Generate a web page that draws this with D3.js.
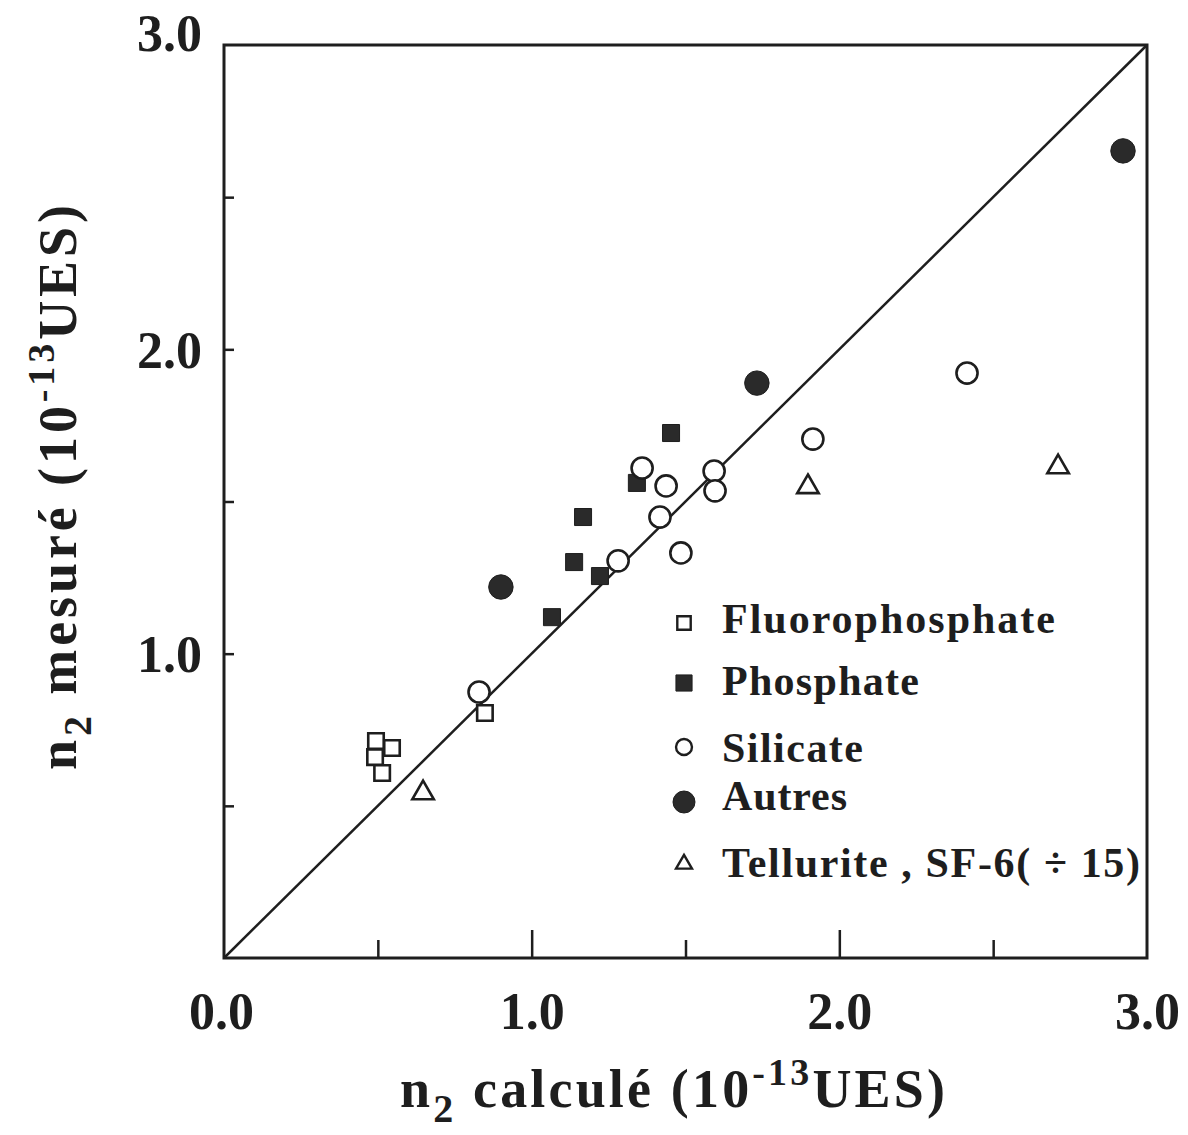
<!DOCTYPE html>
<html><head><meta charset="utf-8">
<script src="https://cdn.jsdelivr.net/npm/d3@7"></script>
<style>body{margin:0;background:#fff}</style>
</head><body><svg id="c" width="1188" height="1135"></svg>
<script>
// ---- data ----
const majorTicks = [1.0, 2.0];
const minorTicks = [0.5, 1.5, 2.5];
const xTickLabels = [0, 1, 2, 3];
const yTickLabels = [1, 2, 3];
const yTicks = [0.5, 1.0, 1.5, 2.0, 2.5];

const fluoroX = [0.494, 0.546, 0.491, 0.514, 0.848];
const fluoroY = [0.713, 0.690, 0.660, 0.608, 0.805];
const phosX = [1.453, 1.342, 1.167, 1.138, 1.222, 1.066];
const phosY = [1.725, 1.561, 1.449, 1.301, 1.255, 1.120];
const silX = [0.829, 1.359, 1.437, 1.593, 1.596, 1.417, 1.281, 1.485, 1.914, 2.415];
const silY = [0.874, 1.610, 1.551, 1.600, 1.535, 1.449, 1.305, 1.331, 1.705, 1.922];
const autX = [0.900, 1.732, 2.922];
const autY = [1.219, 1.889, 2.652];
const telX = [0.647, 1.898, 2.711];
const telY = [0.542, 1.548, 1.613];
const diagonal = [0, 3];

const legendLabels = ["Fluorophosphate", "Phosphate", "Silicate", "Autres", "Tellurite , SF-6( \u00F7 15)"];

// ---- layout ----
const svg = d3.select("#c");
const L = 224, R = 1147, T = 45, B = 958;
const x = d3.scaleLinear().domain([0, 3]).range([L, R]);
const y = d3.scaleLinear().domain([0, 3]).range([B, T]);
const ink = "#1e1e1e";
const font = "'Liberation Serif', 'Times New Roman', serif";

// frame
svg.append("rect").attr("x", L).attr("y", T).attr("width", R - L).attr("height", B - T)
  .attr("fill", "none").attr("stroke", ink).attr("stroke-width", 3);

// ticks (inside)
const gx1 = svg.append("g").attr("transform", `translate(0,${B})`)
  .call(d3.axisBottom(x).tickValues(majorTicks).tickSize(-28).tickFormat(""));
const gx2 = svg.append("g").attr("transform", `translate(0,${B})`)
  .call(d3.axisBottom(x).tickValues(minorTicks).tickSize(-18).tickFormat(""));
const gy = svg.append("g").attr("transform", `translate(${L},0)`)
  .call(d3.axisLeft(y).tickValues(yTicks).tickSize(-10).tickFormat(""));
[gx1, gx2, gy].forEach(g => {
  g.select(".domain").remove();
  g.selectAll("line").attr("stroke", ink).attr("stroke-width", 2.5);
});

// tick labels
const gxl = svg.append("g").attr("transform", `translate(0,${B})`)
  .call(d3.axisBottom(x).tickValues(xTickLabels).tickSize(0).tickPadding(0).tickFormat(d3.format(".1f")));
gxl.select(".domain").remove();
gxl.selectAll("text").attr("y", 71).attr("dy", 0).attr("font-family", font)
  .attr("font-weight", "bold").attr("font-size", 52).attr("fill", ink);
gxl.selectAll(".tick").filter(d => d === 0).select("text").attr("x", -3);

const gyl = svg.append("g").attr("transform", `translate(${L},0)`)
  .call(d3.axisLeft(y).tickValues(yTickLabels).tickSize(0).tickPadding(0).tickFormat(d3.format(".1f")));
gyl.select(".domain").remove();
gyl.selectAll("text").attr("x", -22).attr("dy", "0.35em").attr("font-family", font)
  .attr("font-weight", "bold").attr("font-size", 52).attr("fill", ink);
gyl.selectAll(".tick").filter(d => d === 3).select("text").attr("y", -13);

// diagonal
svg.append("line").attr("x1", x(diagonal[0])).attr("y1", y(diagonal[0]))
  .attr("x2", x(diagonal[1])).attr("y2", y(diagonal[1]))
  .attr("stroke", ink).attr("stroke-width", 2.5);

// markers
function draw(xs, ys, type, size, filled) {
  const sym = d3.symbol().type(type).size(size);
  svg.append("g").selectAll("path").data(xs.map((v, i) => [v, ys[i]])).join("path")
    .attr("d", sym)
    .attr("transform", d => `translate(${x(d[0])},${y(d[1])})`)
    .attr("fill", filled ? "#2a2a2a" : "#fff")
    .attr("stroke", ink).attr("stroke-width", filled ? 1 : 2.6);
}
draw(fluoroX, fluoroY, d3.symbolSquare, 240, false);
draw(phosX, phosY, d3.symbolSquare, 290, true);
draw(silX, silY, d3.symbolCircle, 350, false);
draw(autX, autY, d3.symbolCircle, 470, true);
draw(telX, telY, d3.symbolTriangle, 200, false);

// legend
const legY = [633, 695, 762, 810, 877];
const legLen = [333, 197, 141, 125, 418];
const legSym = [
  [d3.symbolSquare, 180, false, 623],
  [d3.symbolSquare, 260, true, 683],
  [d3.symbolCircle, 200, false, 747],
  [d3.symbolCircle, 380, true, 802],
  [d3.symbolTriangle, 110, false, 864]
];
legendLabels.forEach((lab, i) => {
  const s = legSym[i];
  svg.append("path").attr("d", d3.symbol().type(s[0]).size(s[1]))
    .attr("transform", `translate(684,${s[3]})`)
    .attr("fill", s[2] ? "#2a2a2a" : "#fff").attr("stroke", ink).attr("stroke-width", s[2] ? 1 : 2.4);
  svg.append("text").attr("x", 722).attr("y", legY[i]).text(lab)
    .attr("font-family", font).attr("font-weight", "bold").attr("font-size", 42)
    .attr("fill", ink).attr("textLength", legLen[i]).attr("lengthAdjust", "spacing");
});

// axis titles
function title(g, base) {
  const t = g.append("text").attr("font-family", font).attr("font-weight", "bold")
    .attr("font-size", 54).attr("fill", ink);
  t.append("tspan").text("n");
  t.append("tspan").text("2").attr("font-size", 40).attr("dy", 15);
  t.append("tspan").text(" " + base + " (10").attr("dy", -15);
  t.append("tspan").text("-13").attr("font-size", 38).attr("dy", -22);
  t.append("tspan").text("UES)").attr("dy", 22);
  return t;
}
const xt = title(svg, "calculé");
xt.attr("x", 400).attr("y", 1107).attr("textLength", 545).attr("lengthAdjust", "spacing");

const ytg = svg.append("g").attr("transform", "translate(76,770) rotate(-90)");
const yt = title(ytg, "mesuré");
yt.attr("x", 0).attr("y", 0).attr("textLength", 565).attr("lengthAdjust", "spacing");
</script></body></html>
